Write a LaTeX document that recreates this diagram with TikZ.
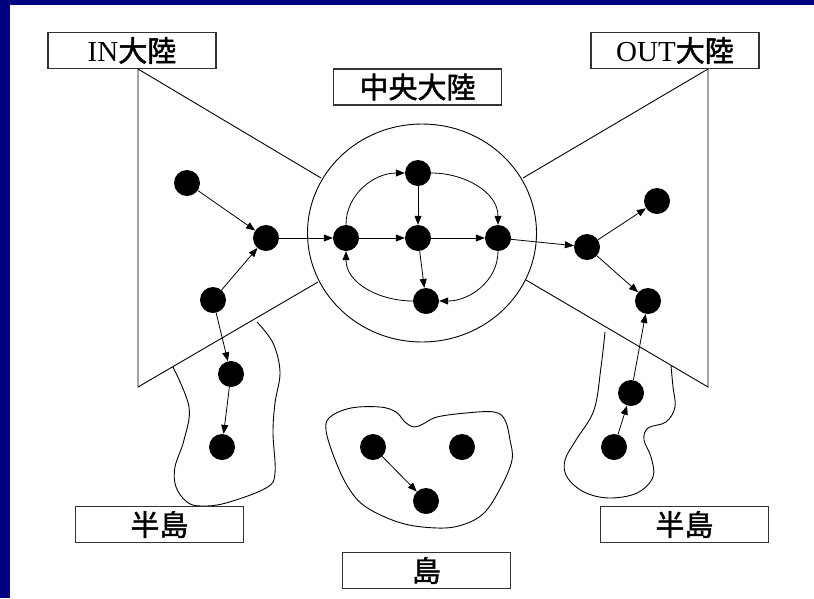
\documentclass[tikz,border=0pt]{standalone}
\usepackage{fontspec}
\setmainfont{Liberation Serif}
\newfontfamily\jp{Noto Sans CJK JP}[FakeBold=1.6]
\usetikzlibrary{arrows.meta}
\definecolor{framenavy}{RGB}{0,0,128}
\tikzset{dot/.style={circle, fill=black, minimum size=26pt, inner sep=0pt},
  lbl/.style={draw=black!80, line width=1.3pt, minimum width=168pt, minimum height=36pt, inner sep=0pt, font=\fontsize{29}{30}\selectfont},
  arr/.style={-{Triangle[length=9pt,width=7pt]}, line width=0.8pt},
  outline/.style={line width=0.9pt}}

\begin{document}
\begin{tikzpicture}[x=1pt,y=-1pt]
  \useasboundingbox (0,0) rectangle (814,598);
  \fill[framenavy] (0,0) rectangle (814,598);
  \fill[white] (10,5) rectangle (814,598);
  % continents
  \draw[outline] (321,178) -- (138,69) -- (138,387) -- (318,282);
  \draw[outline] (523,178) -- (708,69) -- (708,387) -- (526,280);
  \draw[outline] (422,233) ellipse [x radius=114.5pt, y radius=109pt];
  % peninsulas and island
  \draw[outline] plot[smooth, tension=0.6] coordinates {(173,367) (189,407) (184,440) (175,467) (176,487) (187,502) (201,506) (226,503) (266,488) (275,473) (273,433) (275,403) (280,372) (273,343) (257,322)};
  \draw[outline] plot[smooth, tension=0.6] coordinates {(605,332) (601,367) (594,410) (576,440) (565,460) (567,477) (584,492) (609,498) (637,493) (653,477) (651,457) (644,440) (648,428) (666,422) (675,407) (673,387) (671,366)};
  \draw[outline] plot[smooth cycle, tension=0.6] coordinates {(330,417) (351,408) (380,407) (396,412) (405,422) (414,427) (423,424) (437,417) (466,413) (494,412) (505,420) (510,440) (512,460) (501,487) (484,513) (462,525) (437,528) (401,523) (366,507) (348,487) (334,457) (326,430)};
  % labels
  \node[lbl] (inland)   at (132,50.5)  {IN{\jp 大陸}};
  \node[lbl] (outland)  at (675,50.5)  {OUT{\jp 大陸}};
  \node[lbl] (midland)  at (417.5,87)  {\jp 中央大陸};
  \node[lbl] (lpenin)   at (159.5,524.5) {\jp 半島};
  \node[lbl] (rpenin)   at (684.5,524.5) {\jp 半島};
  \node[lbl] (isle)     at (426.5,570.5) {\jp 島};
  % nodes
  \node[dot] (a1) at (187,183) {};
  \node[dot] (a2) at (266,238) {};
  \node[dot] (a3) at (213,300) {};
  \node[dot] (p1) at (231,374) {};
  \node[dot] (p2) at (222,447) {};
  \node[dot] (c1) at (346,238) {};
  \node[dot] (c2) at (418,173) {};
  \node[dot] (c3) at (418,238) {};
  \node[dot] (c4) at (498,238) {};
  \node[dot] (c5) at (426,301) {};
  \node[dot] (o1) at (587,247) {};
  \node[dot] (o2) at (657,201) {};
  \node[dot] (o3) at (648,301) {};
  \node[dot] (q1) at (631,393) {};
  \node[dot] (q2) at (614,447) {};
  \node[dot] (i1) at (373,447) {};
  \node[dot] (i2) at (462,447) {};
  \node[dot] (i3) at (426,501) {};
  % arrows
  \draw[arr] (a1) -- (a2);
  \draw[arr] (a3) -- (a2);
  \draw[arr] (a2) -- (c1);
  \draw[arr] (a3) -- (p1);
  \draw[arr] (p1) -- (p2);
  \draw[arr] (c1) -- (c3);
  \draw[arr] (c2) -- (c3);
  \draw[arr] (c3) -- (c4);
  \draw[arr] (c3) -- (c5);
  \draw[arr] (c1) to[out=90,in=180] (c2);
  \draw[arr] (c2) to[out=0,in=90] (c4);
  \draw[arr] (c4) to[out=-90,in=0] (c5);
  \draw[arr] (c5) to[out=180,in=-90] (c1);
  \draw[arr] (c4) -- (o1);
  \draw[arr] (o1) -- (o2);
  \draw[arr] (o1) -- (o3);
  \draw[arr] (q1) -- (o3);
  \draw[arr] (q2) -- (q1);
  \draw[arr] (i1) -- (i3);
\end{tikzpicture}
\end{document}
